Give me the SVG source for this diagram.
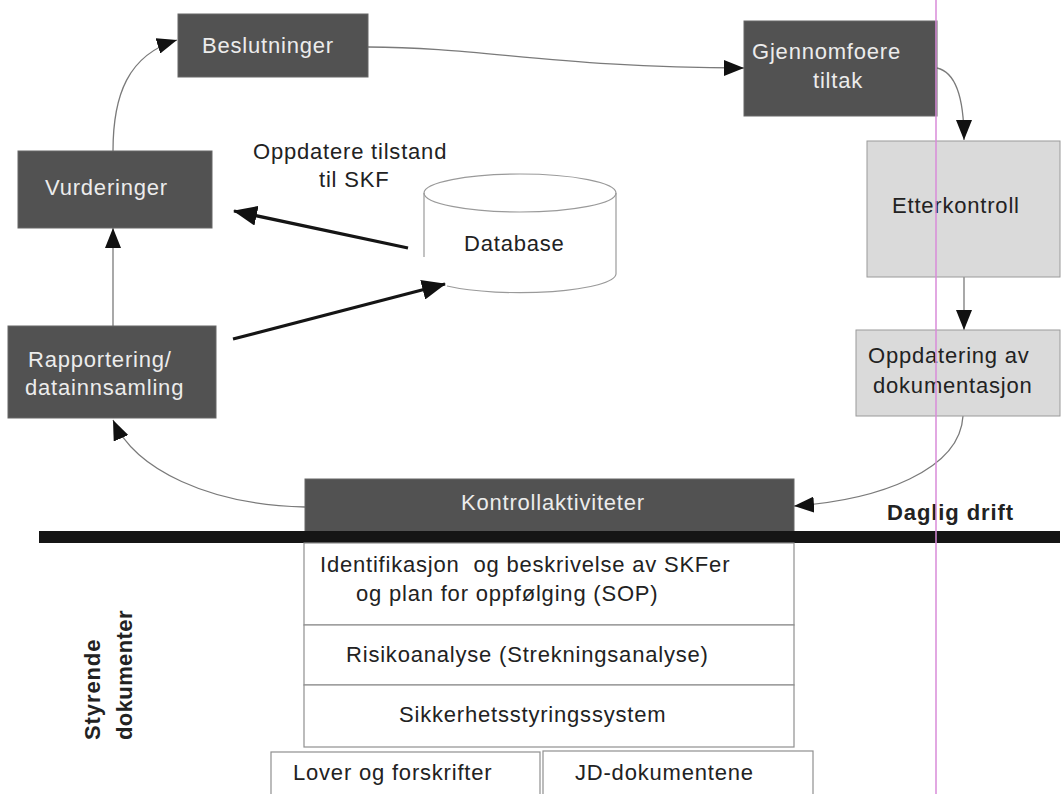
<svg xmlns="http://www.w3.org/2000/svg" width="1062" height="794" viewBox="0 0 1062 794">
<defs>
<style>
.dark{fill:#525252;stroke:#666666;stroke-width:1}
.light{fill:#dadada;stroke:#9a9a9a;stroke-width:1}
.plain{fill:#ffffff;stroke:#8f8f8f;stroke-width:1.2}
.t{font-family:"Liberation Sans",Arial,Helvetica,sans-serif;font-size:22px;letter-spacing:0.8px}
.tw{fill:#ececec}
.tk{fill:#222222}
.b{font-weight:bold;letter-spacing:0.9px}
.conn{fill:none;stroke:#7a7a7a;stroke-width:1.3}
.thick{fill:none;stroke:#151515;stroke-width:3.2}
.cyl{fill:none;stroke:#9a9a9a;stroke-width:1.2}
</style>
<marker id="ah" markerUnits="userSpaceOnUse" markerWidth="20" markerHeight="16" refX="20" refY="8" orient="auto">
<path d="M0,0 L20,8 L0,16 z" fill="#111"/>
</marker>
<marker id="ahb" markerUnits="userSpaceOnUse" markerWidth="24" markerHeight="20" refX="23" refY="10" orient="auto">
<path d="M0,0 L24,10 L0,20 z" fill="#111"/>
</marker>
</defs>
<rect x="0" y="0" width="1062" height="794" fill="#ffffff"/>

<g id="connectors">
<path class="conn" d="M113,151 C113,95 128,55 177,40" marker-end="url(#ah)"/>
<path class="conn" d="M368,47 C480,47 560,68 744,68" marker-end="url(#ah)"/>
<path class="conn" d="M937,68 C955,72 964,95 964,140" marker-end="url(#ah)"/>
<path class="conn" d="M964,277 L964,330" marker-end="url(#ah)"/>
<path class="conn" d="M963,416 C960,470 880,500 794,506" marker-end="url(#ah)"/>
<path class="conn" d="M305,507 C210,505 135,470 113,420" marker-end="url(#ah)"/>
<path class="conn" d="M113,326 L113,228" marker-end="url(#ah)"/>
<path class="thick" d="M408,248 L234,211" marker-end="url(#ahb)"/>
<path class="thick" d="M233,339 L445,284" marker-end="url(#ahb)"/>
</g>

<g id="beslutninger">
<rect class="dark" x="178" y="14" width="190" height="63"/>
<text class="t tw" x="202" y="53">Beslutninger</text>
</g>

<g id="vurderinger">
<rect class="dark" x="18" y="151" width="194" height="77"/>
<text class="t tw" x="45" y="195">Vurderinger</text>
</g>

<g id="rapportering">
<rect class="dark" x="8" y="326" width="208" height="92"/>
<text class="t tw" x="28" y="367">Rapportering/</text>
<text class="t tw" x="25" y="395">datainnsamling</text>
</g>

<g id="gjennomfoere">
<rect class="dark" x="744" y="21" width="193" height="95"/>
<text class="t tw" x="752" y="59">Gjennomfoere</text>
<text class="t tw" x="813" y="88">tiltak</text>
</g>

<g id="etterkontroll">
<rect class="light" x="867" y="141" width="193" height="136"/>
<text class="t tk" x="892" y="213">Etterkontroll</text>
</g>

<g id="oppdatering">
<rect class="light" x="856" y="330" width="204" height="86"/>
<text class="t tk" x="868" y="363">Oppdatering av</text>
<text class="t tk" x="873" y="393">dokumentasjon</text>
</g>

<g id="database">
<ellipse class="cyl" cx="520" cy="193" rx="96" ry="19"/>
<path class="cyl" d="M424,193 L424,257"/>
<path class="cyl" d="M616,193 L616,274"/>
<path class="cyl" d="M447,286 A96,19 0 0 0 616,274"/>
<text class="t tk" x="464" y="251">Database</text>
</g>

<g id="label-oppdatere">
<text class="t tk" x="253" y="159">Oppdatere tilstand</text>
<text class="t tk" x="319" y="187">til SKF</text>
</g>

<g id="kontrollaktiviteter">
<rect class="dark" x="305" y="479" width="489" height="53"/>
<text class="t tw" x="461" y="510">Kontrollaktiviteter</text>
</g>

<g id="divider">
<rect x="39" y="531" width="1021" height="12" fill="#151515"/>
<text class="t tk b" x="887" y="520">Daglig drift</text>
</g>

<g id="identifikasjon">
<rect class="plain" x="304" y="543" width="490" height="82"/>
<text class="t tk" x="320" y="572" xml:space="preserve">Identifikasjon  og beskrivelse av SKFer</text>
<text class="t tk" x="356" y="601">og plan for oppfølging (SOP)</text>
</g>

<g id="risikoanalyse">
<rect class="plain" x="304" y="625" width="490" height="60"/>
<text class="t tk" x="346" y="662">Risikoanalyse (Strekningsanalyse)</text>
</g>

<g id="sikkerhet">
<rect class="plain" x="304" y="685" width="490" height="62"/>
<text class="t tk" x="399" y="722">Sikkerhetsstyringssystem</text>
</g>

<g id="lover">
<rect class="plain" x="271" y="752" width="269" height="60"/>
<text class="t tk" x="293" y="780">Lover og forskrifter</text>
</g>

<g id="jd">
<rect class="plain" x="543" y="751" width="270" height="60"/>
<text class="t tk" x="575" y="780">JD-dokumentene</text>
</g>

<g id="styrende">
<text class="t tk b" transform="translate(100,740) rotate(-90)" x="0" y="0">Styrende</text>
<text class="t tk b" transform="translate(132,740) rotate(-90)" x="0" y="0" style="letter-spacing:0.4px">dokumenter</text>
</g>

<line x1="936" y1="0" x2="936" y2="794" stroke="#d98bd9" stroke-width="1.5"/>
</svg>
